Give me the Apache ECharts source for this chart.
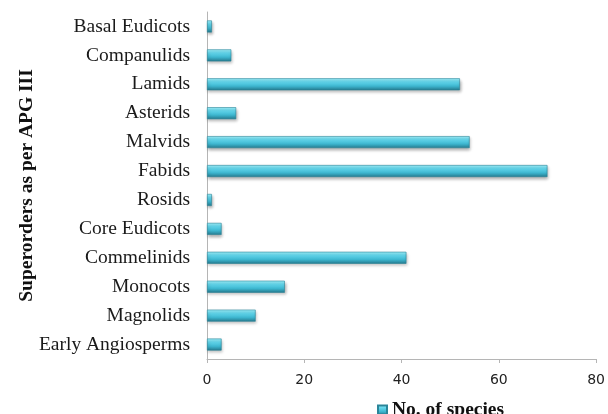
<!DOCTYPE html>
<html>
<head>
<meta charset="utf-8">
<script src="https://cdn.jsdelivr.net/npm/echarts@6/dist/echarts.min.js"></script>
<style>
  html, body { margin: 0; padding: 0; background: #fff; }
  #chart { width: 608px; height: 414px; }
</style>
</head>
<body>
<div id="chart"></div>
<script>
// superorders, bottom to top
var categories = [
  "Early Angiosperms", "Magnolids", "Monocots", "Commelinids",
  "Core Eudicots", "Rosids", "Fabids", "Malvids",
  "Asterids", "Lamids", "Companulids", "Basal Eudicots"
];
var speciesCount = [3, 10, 16, 41, 3, 1, 70, 54, 6, 52, 5, 1];
var xTicks = [0, 20, 40, 60, 80];

var chart = echarts.init(document.getElementById("chart"));

var barColor = new echarts.graphic.LinearGradient(0, 0, 0, 1, [
  { offset: 0, color: "#a2f3fd" },
  { offset: 0.3, color: "#62d6ec" },
  { offset: 0.65, color: "#3db6cf" },
  { offset: 1, color: "#25798d" }
]);

chart.setOption({
  animation: false,
  grid: {
    left: 207,
    right: 7,
    top: 12,
    bottom: 55,
    containLabel: false
  },
  legend: {
    data: ["No. of species"],
    left: 372,
    top: 395,
    itemWidth: 9,
    itemHeight: 9,
    itemGap: 4,
    icon: "rect",
    textStyle: {
      fontFamily: "Liberation Serif",
      fontWeight: "bold",
      fontSize: 19.5,
      color: "#111"
    }
  },
  xAxis: {
    type: "value",
    min: xTicks[0],
    max: xTicks[xTicks.length - 1],
    interval: 20,
    splitLine: { show: false },
    axisLine: {
      show: true,
      lineStyle: { color: "#b5b5b5", width: 1 }
    },
    axisTick: {
      show: true,
      length: 4,
      lineStyle: { color: "#b5b5b5" }
    },
    axisLabel: {
      margin: 14,
      fontFamily: "DejaVu Sans",
      fontSize: 14,
      color: "#222"
    }
  },
  yAxis: {
    type: "category",
    data: categories,
    name: "Superorders as per APG III",
    nameLocation: "middle",
    nameGap: 170,
    nameMoveOverlap: false,
    nameTextStyle: {
      fontFamily: "Liberation Serif",
      fontWeight: "bold",
      fontSize: 19.5,
      color: "#111"
    },
    axisLine: {
      show: true,
      lineStyle: { color: "#b5b5b5", width: 1 }
    },
    axisTick: { show: false },
    axisLabel: {
      margin: 17,
      fontFamily: "Liberation Serif",
      fontSize: 19.5,
      color: "#1a1a1a"
    }
  },
  series: [
    {
      name: "No. of species",
      type: "bar",
      data: speciesCount,
      barWidth: 12,
      itemStyle: {
        color: barColor,
        borderColor: "#2a8599",
        borderWidth: 0.6,
        shadowColor: "rgba(0,0,0,0.3)",
        shadowBlur: 3,
        shadowOffsetX: 1,
        shadowOffsetY: 2
      }
    }
  ]
});
</script>
</body>
</html>
